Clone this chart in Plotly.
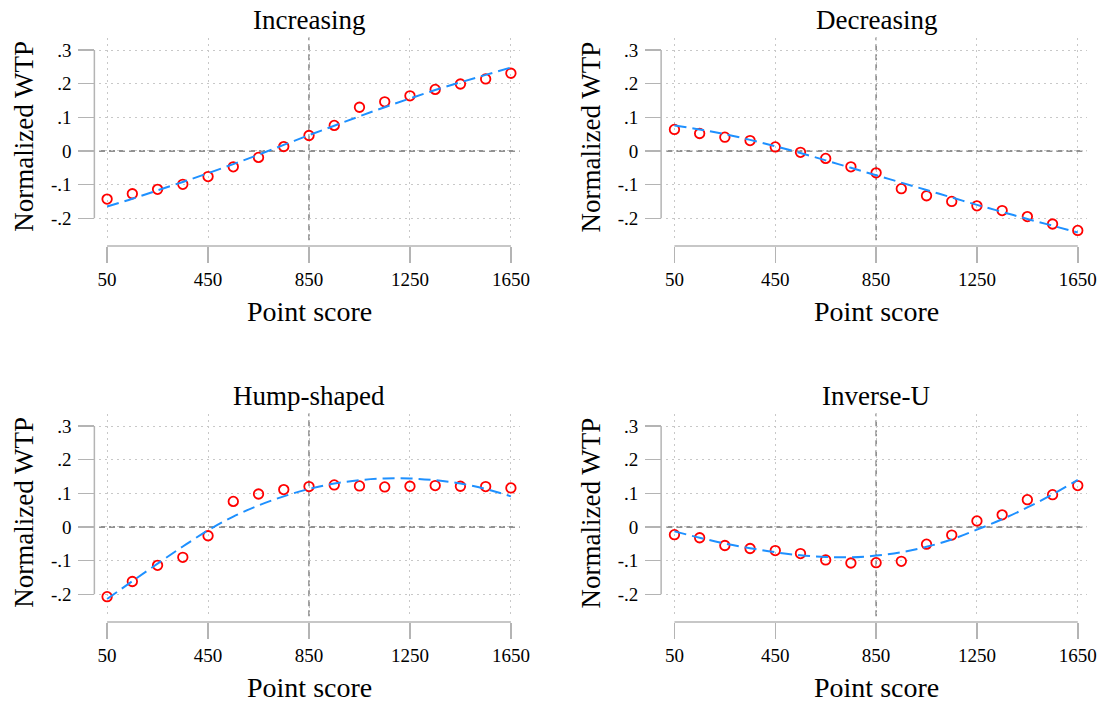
import plotly.graph_objects as go

# ---- data ----
point_score = [50, 150, 250, 350, 450, 550, 650, 750, 850, 950, 1050, 1150, 1250, 1350, 1450, 1550, 1650]

titles = ["Increasing", "Decreasing", "Hump-shaped", "Inverse-U"]

inc_obs = [-0.143, -0.127, -0.114, -0.099, -0.076, -0.047, -0.019, 0.013, 0.046, 0.076,
           0.130, 0.146, 0.164, 0.183, 0.199, 0.214, 0.231]
inc_fit = [-0.165, -0.142, -0.117, -0.092, -0.066, -0.039, -0.011, 0.018, 0.047, 0.075,
           0.103, 0.130, 0.156, 0.181, 0.204, 0.226, 0.248]

dec_obs = [0.064, 0.052, 0.041, 0.031, 0.012, -0.004, -0.022, -0.047, -0.065, -0.112,
           -0.133, -0.150, -0.163, -0.177, -0.195, -0.217, -0.236]
dec_fit = [0.076, 0.064, 0.050, 0.033, 0.014, -0.006, -0.028, -0.050, -0.072, -0.094,
           -0.116, -0.138, -0.160, -0.181, -0.202, -0.222, -0.242]

hump_obs = [-0.207, -0.162, -0.114, -0.090, -0.026, 0.076, 0.098, 0.111, 0.120, 0.125,
            0.122, 0.119, 0.121, 0.123, 0.121, 0.120, 0.116]
hump_fit = [-0.214, -0.161, -0.109, -0.058, -0.010, 0.031, 0.064, 0.091, 0.113, 0.129,
            0.139, 0.144, 0.144, 0.139, 0.129, 0.113, 0.091]

invu_obs = [-0.023, -0.032, -0.055, -0.064, -0.070, -0.079, -0.098, -0.107, -0.106, -0.102,
            -0.051, -0.024, 0.018, 0.036, 0.081, 0.096, 0.123]
invu_fit = [-0.013, -0.032, -0.049, -0.063, -0.075, -0.084, -0.089, -0.090, -0.085, -0.075,
            -0.059, -0.037, -0.008, 0.023, 0.058, 0.097, 0.140]

x_tickvals = [50, 450, 850, 1250, 1650]
x_ticktext = ["50", "450", "850", "1250", "1650"]
y_tickvals = [-0.2, -0.1, 0, 0.1, 0.2, 0.3]
y_ticktext = ["-.2", "-.1", "0", ".1", ".2", ".3"]

ref_x = 850
ref_y = 0

x_title = "Point score"
y_title = "Normalized WTP"

obs_series = [inc_obs, dec_obs, hump_obs, invu_obs]
fit_series = [inc_fit, dec_fit, hump_fit, invu_fit]

# ---- layout geometry (paper fractions) ----
W, H = 1116, 702
FONT = "Liberation Serif, Times New Roman, serif"
AXCOL = "#b4b4b4"
GRIDCOL = "#c8c8c8"
REFCOL = "#6e6e6e"

x_range = [18, 1685]
y_range = [-0.265, 0.337]

col_x_dom = [[99.0 / W, 523.9 / W], [672.0 / W, 1096.4 / W]]
row_off = [0, 376]
top_px, bot_px = 37.55, 240.18
yaxis_line_px = [94.3, 666.7]
xaxis_line_px = 246.0

fig = go.Figure()
layout = dict(
    width=W, height=H,
    margin=dict(l=0, r=0, t=0, b=0),
    paper_bgcolor="white", plot_bgcolor="white",
    showlegend=False,
    font=dict(family=FONT, color="black"),
)
shapes = []
annotations = []

for i in range(4):
    r, c = divmod(i, 2)
    n = i + 1
    xa = "x" if n == 1 else f"x{n}"
    ya = "y" if n == 1 else f"y{n}"
    xk = "xaxis" if n == 1 else f"xaxis{n}"
    yk = "yaxis" if n == 1 else f"yaxis{n}"

    off = row_off[r]
    ydom = [1 - (bot_px + off) / H, 1 - (top_px + off) / H]
    xdom = col_x_dom[c]
    ypos = yaxis_line_px[c] / W
    xpos = 1 - (xaxis_line_px + off) / H

    layout[xk] = dict(
        domain=xdom, range=x_range, anchor="free", position=xpos, side="bottom",
        tickmode="array", tickvals=x_tickvals, ticktext=x_ticktext,
        ticks="outside", ticklen=16, tickwidth=1.5, tickcolor=AXCOL,
        ticklabelstandoff=0,
        tickfont=dict(family=FONT, size=19, color="black"),
        showline=False, zeroline=False,
        showgrid=True, gridcolor=GRIDCOL, griddash="2px,4px", gridwidth=1,
    )
    layout[yk] = dict(
        domain=ydom, range=y_range, anchor="free", position=ypos, side="left",
        tickmode="array", tickvals=y_tickvals, ticktext=y_ticktext,
        ticks="outside", ticklen=16, tickwidth=1.5, tickcolor=AXCOL,
        ticklabelstandoff=3,
        tickfont=dict(family=FONT, size=19, color="black"),
        showline=False, zeroline=False,
        showgrid=True, gridcolor=GRIDCOL, griddash="2px,4px", gridwidth=1,
    )

    # axis line segments (Stata style: only between extreme ticks)
    shapes.append(dict(type="line", xref="paper", yref=ya,
                       x0=ypos, x1=ypos, y0=y_tickvals[0], y1=y_tickvals[-1],
                       line=dict(color=AXCOL, width=1.5)))
    shapes.append(dict(type="line", xref=xa, yref="paper",
                       x0=x_tickvals[0], x1=x_tickvals[-1], y0=xpos, y1=xpos,
                       line=dict(color=AXCOL, width=1.5)))
    # reference lines
    shapes.append(dict(type="line", xref=f"{xa} domain", yref=ya, x0=0, x1=1,
                       y0=ref_y, y1=ref_y, layer="below",
                       line=dict(color=REFCOL, width=1.3, dash="6px,4px")))
    shapes.append(dict(type="line", xref=xa, yref=f"{ya} domain", x0=ref_x, x1=ref_x,
                       y0=0, y1=1, layer="below",
                       line=dict(color=REFCOL, width=1.3, dash="6px,4px")))

    # data
    fig.add_trace(go.Scatter(x=point_score, y=obs_series[i], mode="markers",
                             xaxis=xa, yaxis=ya, cliponaxis=False,
                             marker=dict(symbol="circle-open", size=9.5, color="#ff0000",
                                         line=dict(width=1.8, color="#ff0000"))))
    fig.add_trace(go.Scatter(x=point_score, y=fit_series[i], mode="lines",
                             xaxis=xa, yaxis=ya, line_shape="spline",
                             line=dict(color="#1e90ff", width=2, dash="12px,6px")))

    # titles
    annotations.append(dict(text=titles[i], xref=xa, x=ref_x, yref="paper",
                            y=1 - (20 + off) / H, xanchor="center", yanchor="middle",
                            showarrow=False, font=dict(family=FONT, size=27, color="black")))
    annotations.append(dict(text=x_title, xref=xa, x=ref_x, yref="paper",
                            y=1 - (311 + off) / H, xanchor="center", yanchor="middle",
                            showarrow=False, font=dict(family=FONT, size=28, color="black")))
    annotations.append(dict(text=y_title, xref="paper", x=(23.3 + 572.4 * c) / W,
                            yref="paper", y=1 - (136.7 + off) / H, textangle=-90,
                            xanchor="center", yanchor="middle",
                            showarrow=False, font=dict(family=FONT, size=27, color="black")))

layout["shapes"] = shapes
layout["annotations"] = annotations
fig.update_layout(**layout)
fig.write_html("out.html", config={"displayModeBar": False, "staticPlot": True},
               post_script="document.body.style.margin='0';document.body.style.overflow='hidden';")
